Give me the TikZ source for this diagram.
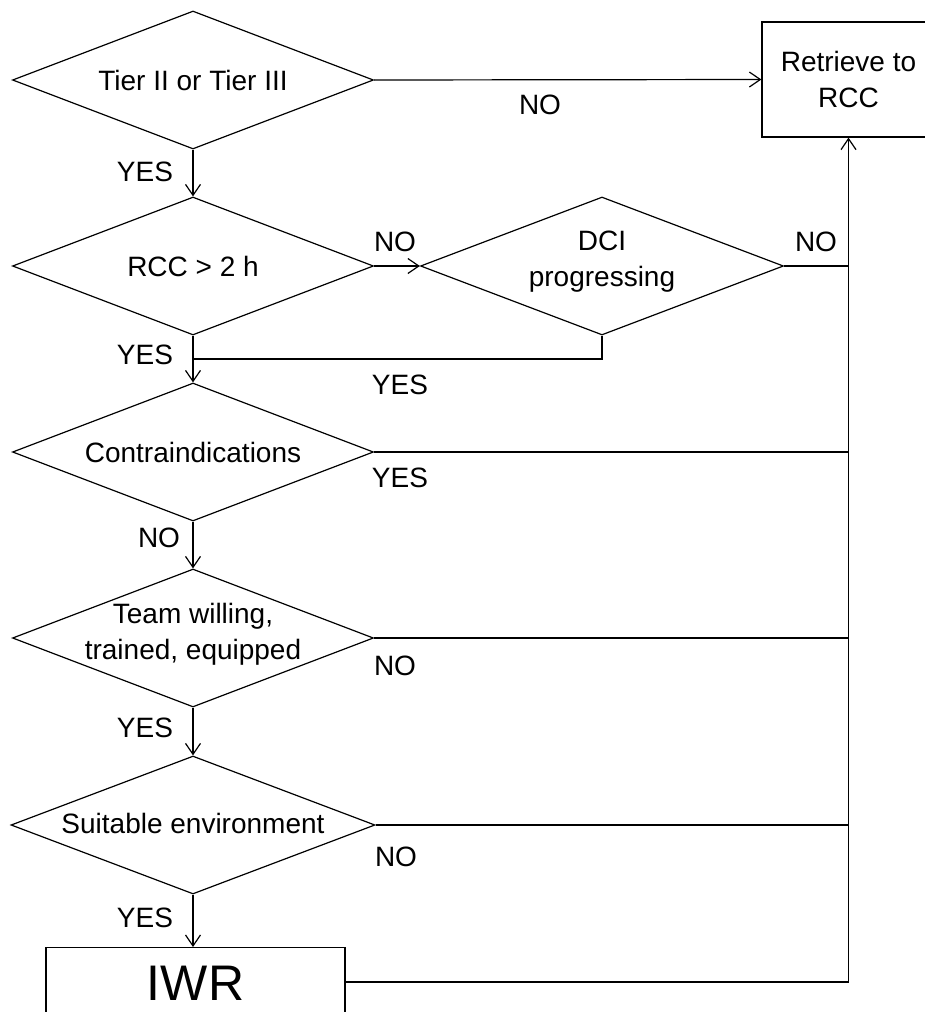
\documentclass[tikz,border=0pt]{standalone}
\usepackage{fontspec}
\setmainfont{Liberation Sans}
\usetikzlibrary{shapes.geometric,arrows.meta}
\begin{document}
\begin{tikzpicture}[x=1pt,y=-1pt,
  every node/.style={font=\fontsize{28}{36}\selectfont},
  dia/.style={diamond, draw, line width=1.2pt, minimum width=361pt, minimum height=138pt, inner sep=0pt},
  txt/.style={align=center, inner sep=0pt},
  lbl/.style={inner sep=0pt},
  ln/.style={line width=1.2pt},
  arr/.style={line width=1.2pt, -{Straight Barb[length=11pt,width=15pt,line width=1.2pt]}}]
\useasboundingbox (0,0) rectangle (925,1012);
\clip (0,0) rectangle (925,1012);
\fill[white] (0,0) rectangle (925,1012);

% decision nodes
\node[dia] (d1) at (193,80) {};
\node[txt] (d1t) at (193,80) {Tier II or Tier III};
\node[dia] (d2) at (193,266) {};
\node[txt] (d2t) at (193,266) {RCC > 2 h};
\node[dia, minimum width=363pt] (dci) at (602,266) {};
\node[txt] (dcit) at (602,262) {DCI\\progressing};
\node[dia] (d3) at (193,452) {};
\node[txt] (d3t) at (193,452) {Contraindications};
\node[dia] (d4) at (193,638) {};
\node[txt] (d4t) at (193,634) {Team willing,\\trained, equipped};
\node[dia, minimum width=364pt] (d5) at (193,825) {};
\node[txt] (d5t) at (193,823) {Suitable environment};

% boxes
\node[draw, line width=1.2pt, minimum width=200pt, minimum height=115pt, inner sep=0pt] (ret) at (862,79.5) {};
\node[txt] (rett) at (848.5,79.5) {Retrieve to\\RCC};
\coordinate (retb) at (rett |- ret.south);
\node[draw, line width=1.2pt, minimum width=299pt, minimum height=100pt, inner sep=0pt, anchor=north] (iwr) at (195.5,947) {};
\node[inner sep=0pt, font=\fontsize{50}{60}\selectfont] (iwrt) at (195.5,983) {IWR};
\coordinate (iwre) at ([yshift=-35pt]iwr.north east);

% connectors
\draw[arr] (d1.east) -- (ret.west);
\draw[arr] (d1.south) -- (d2.north);
\draw[arr] (d2.east) -- (dci.west);
\draw[ln] (dci.east) -- (retb |- dci.east);
\coordinate (join) at (193,359);
\draw[ln] (dci.south) -- (dci.south |- join) -- (join);
\draw[arr] (d2.south) -- (d3.north);
\draw[ln] (d3.east) -- (retb |- d3.east);
\draw[arr] (d3.south) -- (d4.north);
\draw[ln] (d4.east) -- (retb |- d4.east);
\draw[arr] (d4.south) -- (d5.north);
\draw[ln] (d5.east) -- (retb |- d5.east);
\draw[arr] (d5.south) -- (d5.south |- iwr.north);
\draw[arr] (iwre) -- (retb |- iwre) -- (retb);

% labels
\node[lbl] (l1) at (540,105) {NO};
\node[lbl] (l2) at (145,172) {YES};
\node[lbl] (l3) at (395,242) {NO};
\node[lbl] (l4) at (816,242) {NO};
\node[lbl] (l5) at (145,355) {YES};
\node[lbl] (l6) at (400,385) {YES};
\node[lbl] (l7) at (400,478) {YES};
\node[lbl] (l8) at (159,538) {NO};
\node[lbl] (l9) at (395,666) {NO};
\node[lbl] (l10) at (145,728) {YES};
\node[lbl] (l11) at (396,857) {NO};
\node[lbl] (l12) at (145,918) {YES};
\end{tikzpicture}
\end{document}
